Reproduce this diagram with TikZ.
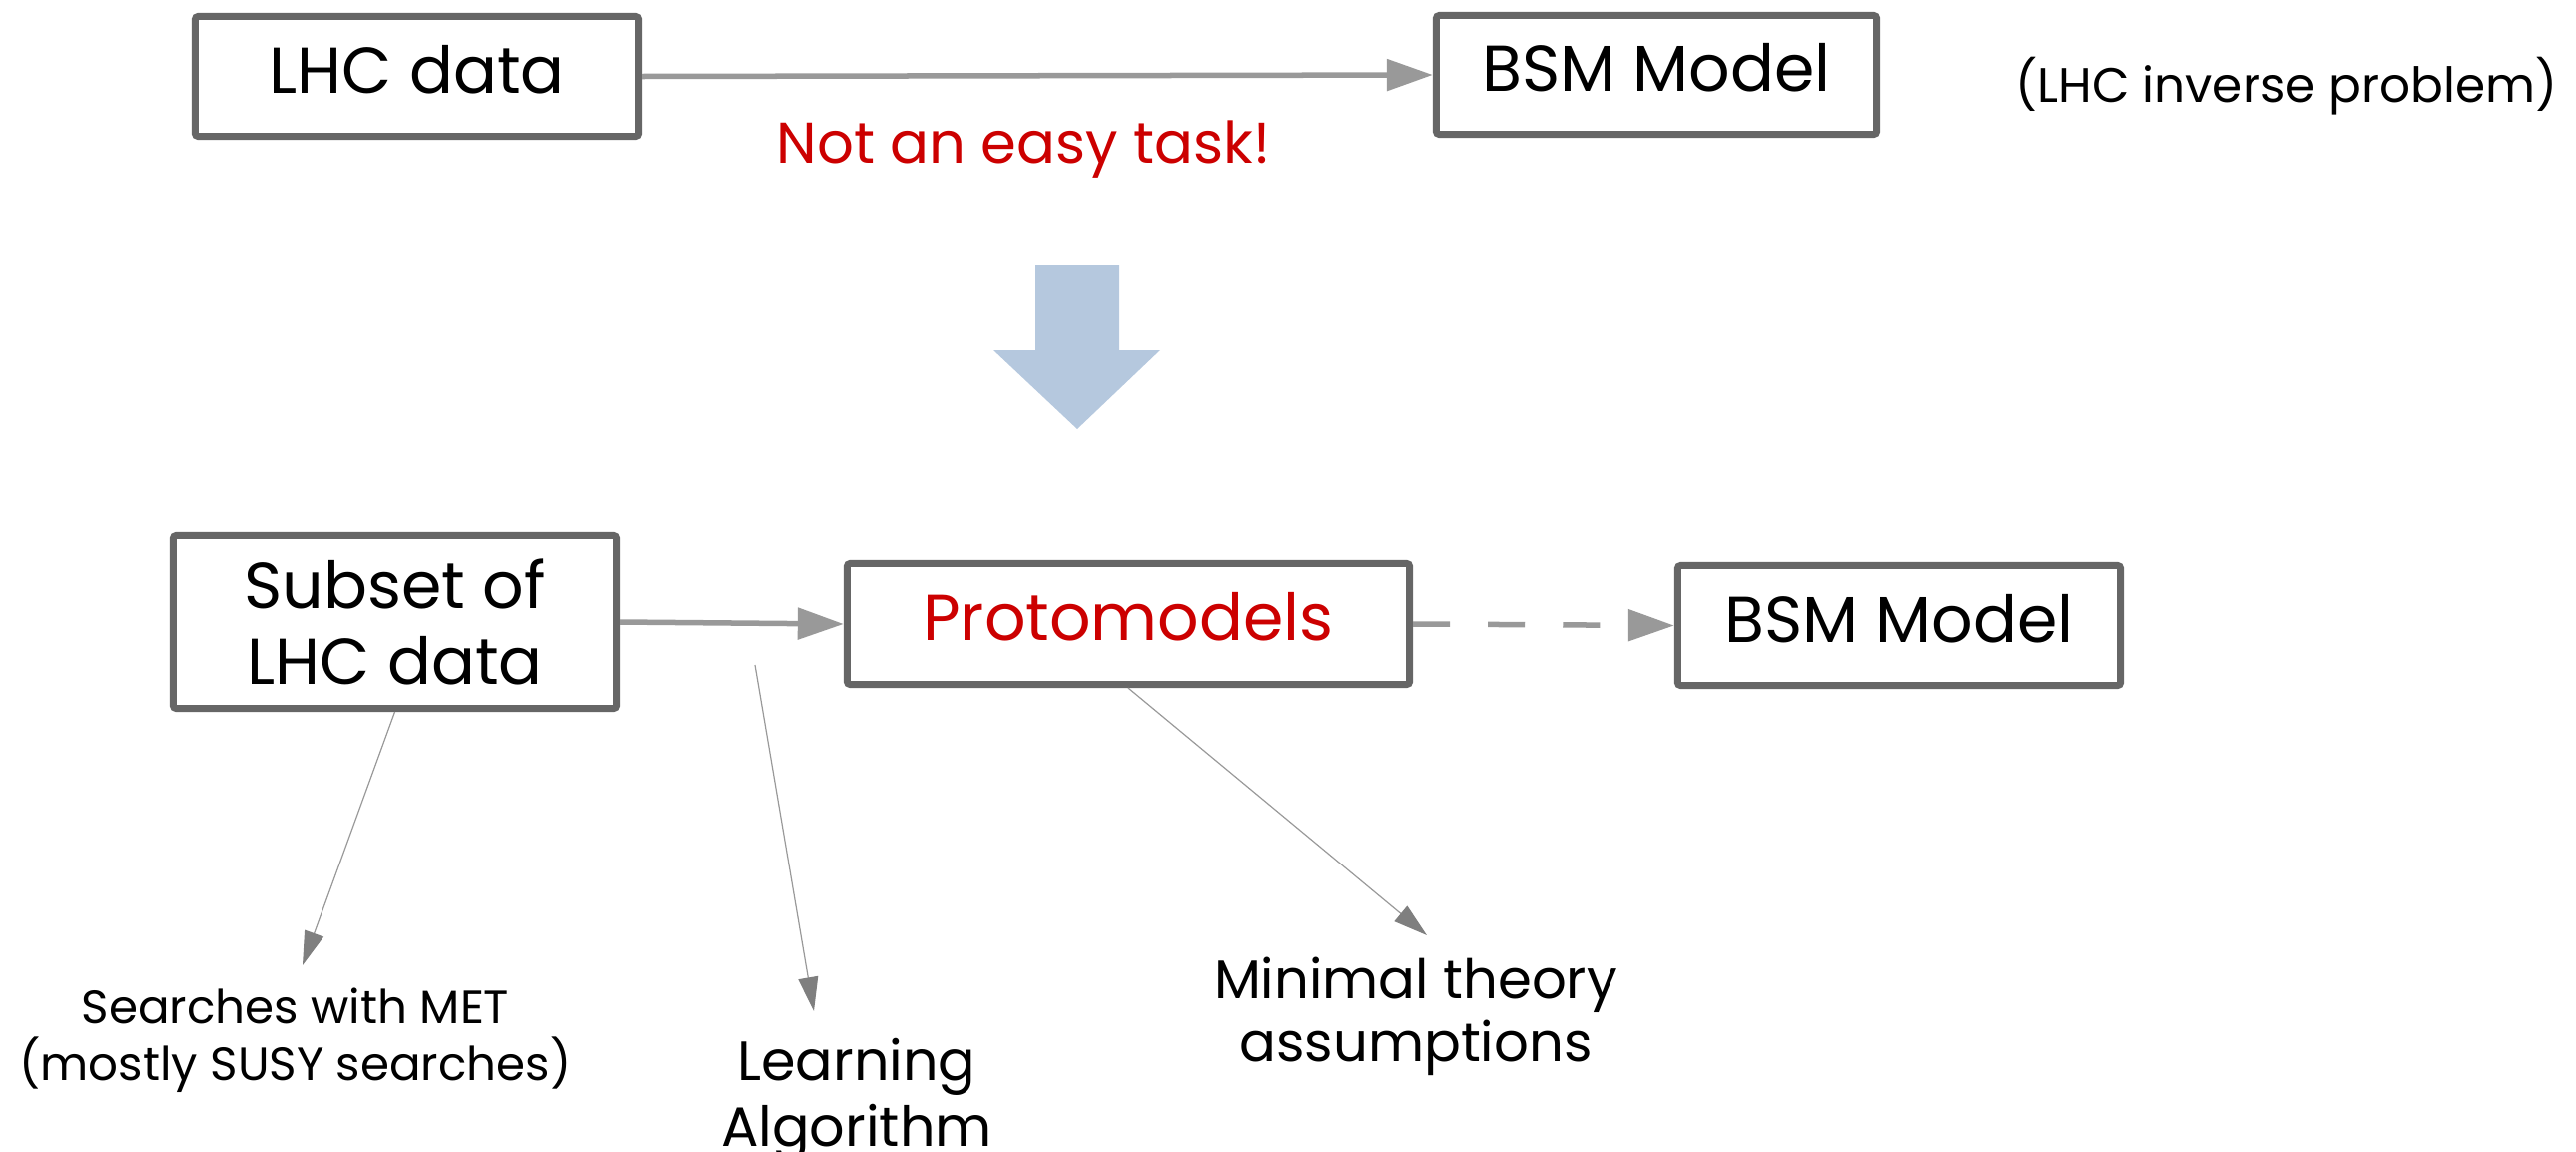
\documentclass[tikz,border=0pt]{standalone}
\usepackage{fontspec}
\setmainfont{Poppins}
\usetikzlibrary{arrows.meta}

\definecolor{boxgray}{HTML}{666666}
\definecolor{linkgray}{HTML}{999999}
\definecolor{tipgray}{HTML}{7F7F7F}
\definecolor{alertred}{HTML}{CC0000}
\definecolor{bigarrow}{RGB}{181,200,222}

\begin{document}
\begin{tikzpicture}[x=0.01cm, y=-0.01cm,
  box/.style={draw=boxgray, line width=0.07cm, rounded corners=0.03cm,
    inner sep=0pt, fill=white, font=\fontsize{18.5}{21.5}\selectfont},
  oneline/.style={text height=0.45cm, text depth=0.12cm},
  flow/.style={draw=linkgray, line width=0.055cm,
    -{Triangle[length=0.46cm, width=0.31cm]}},
  note/.style={draw=linkgray, line width=0.012cm,
    -{Triangle[length=0.34cm, width=0.2cm, color=tipgray]}},
  caption/.style={anchor=base, inner sep=0pt, align=center}
]
\useasboundingbox (0,0) rectangle (2580,1154);

% top row: the direct inverse problem
\node[box, oneline, minimum width=4.44cm, minimum height=1.20cm] (lhc) at (417.5,76.5) {LHC data};
\node[box, oneline, minimum width=4.41cm, minimum height=1.19cm] (bsmtop) at (1659,75) {BSM Model};
\draw[flow] (lhc.east) -- (bsmtop.west);
\node[caption, text=alertred, font=\fontsize{16.4}{19}\selectfont] (hard) at (1025,163) {Not an easy task!};
\node[caption, font=\fontsize{13.8}{16}\selectfont] (inverse) at (2290,102) {(LHC inverse problem)};

% block arrow between the two rows
\fill[bigarrow] (1037,265) -- (1121,265) -- (1121,351) -- (1162,351)
  -- (1079,430) -- (995,351) -- (1037,351) -- cycle;

% bottom row: the protomodel approach
\node[box, align=center, minimum width=4.44cm, minimum height=1.73cm] (subset) at (395.5,623) {Subset of\\LHC data};
\node[box, oneline, text=alertred, minimum width=5.63cm, minimum height=1.21cm] (proto) at (1130,625) {Protomodels};
\node[box, oneline, minimum width=4.43cm, minimum height=1.20cm] (bsmlow) at (1902,626.5) {BSM Model};
\draw[flow] (subset.east) -- (proto.west);
\draw[flow, dash pattern=on 0.37cm off 0.38cm] (proto.east) -- (bsmlow.west);

% annotations (anchored at the baseline of their last line)
\node[caption, font=\fontsize{13.3}{16.2}\selectfont] (met) at (296,1082) {Searches with MET\\(mostly SUSY searches)};
\node[caption, font=\fontsize{15.8}{18.5}\selectfont] (learn) at (858,1148) {Learning\\Algorithm};
\node[caption, font=\fontsize{15.5}{17.9}\selectfont] (minimal) at (1418,1063) {Minimal theory\\assumptions};

\coordinate (metend) at (303,967);
\coordinate (learnstart) at (756,666);
\coordinate (learnend) at (815,1013);
\coordinate (minend) at (1429,937);
\draw[note] (subset.south) -- (metend);
\draw[note] (learnstart) -- (learnend);
\draw[note] (proto.south) -- (minend);
\end{tikzpicture}
\end{document}
